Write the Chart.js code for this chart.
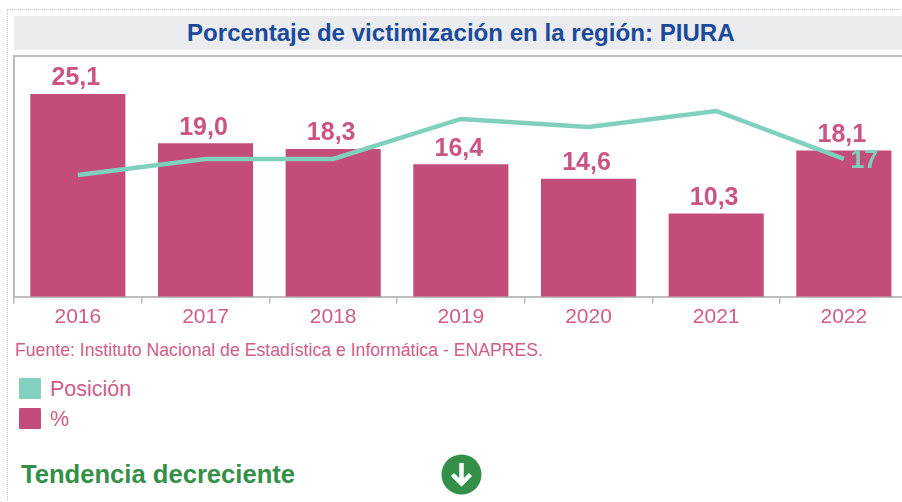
<!DOCTYPE html>
<html lang="es">
<head>
<meta charset="utf-8">
<style>
html,body{margin:0;padding:0;width:902px;height:502px;overflow:hidden;background:#fff;font-family:"Liberation Sans",Arial,sans-serif}
#frame{position:absolute;left:7px;top:9px;width:910px;height:520px;border:1px dotted #c4c4c4;box-sizing:border-box}
#band{position:absolute;left:14px;top:16px;width:888px;height:34px;background:#ebecf0;color:#1c4a9a;font-weight:bold;font-size:24.1px;line-height:33px}
#band span{position:absolute;left:173px;white-space:nowrap}
#wrap{position:absolute;left:0;top:0;width:910px;height:331px}
#src{position:absolute;left:15px;top:341px;font-size:17.67px;line-height:18px;color:#d05c8a;white-space:nowrap}
.key{position:absolute;left:19px;width:22px;height:21px;border-radius:1px}
.lab{position:absolute;left:50px;font-size:21.5px;line-height:24px;color:#d05c8a;white-space:nowrap}
#trend{position:absolute;left:21px;top:460px;font-size:25.6px;line-height:28px;font-weight:bold;color:#349048;white-space:nowrap}
#icon{position:absolute;left:441px;top:454px}
</style>
</head>
<body>
<div id="frame"></div>
<div id="band"><span>Porcentaje de victimización en la región: PIURA</span></div>
<div id="wrap"><canvas id="c" width="910" height="331" style="display:block"></canvas></div>
<div id="src">Fuente: Instituto Nacional de Estadística e Informática - ENAPRES.</div>
<div class="key" style="top:378px;background:#84d0c0"></div><div class="lab" style="top:377px">Posición</div>
<div class="key" style="top:408px;background:#c44c7b"></div><div class="lab" style="top:407px">%</div>
<div id="trend">Tendencia decreciente</div>
<svg id="icon" width="41" height="41" viewBox="0 0 41 41"><circle cx="20.5" cy="20.500" r="20" fill="#349048"/><path d="M20.500 9v20M11.500 20.500l9 9 9-9" fill="none" stroke="#fff" stroke-width="4.500"/></svg>
<script src="https://cdn.jsdelivr.net/npm/chart.js@4/dist/chart.umd.min.js"></script>
<script>
const years = ["2016","2017","2018","2019","2020","2021","2022"];
const percent = [25.1,19.0,18.3,16.4,14.6,10.3,18.1];
const position = [19,17,17,12,13,11,17];

const pink = "#c44c7b", teal = "#7fd0bd", textPink = "#d05c8a", gray = "#bdbdbd";

const decor = {
  id:"decor",
  afterDraw(chart){
    const {ctx,chartArea:a} = chart;
    ctx.save();
    ctx.strokeStyle = gray; ctx.lineWidth = 2;
    ctx.beginPath();
    ctx.moveTo(a.left,a.bottom); ctx.lineTo(a.left,a.top); ctx.lineTo(a.right,a.top);
    ctx.stroke();
    ctx.restore();
  },
  afterDatasetsDraw(chart){
    const {ctx} = chart;
    ctx.save();
    ctx.font = "bold 25px 'Liberation Sans', Arial, sans-serif";
    ctx.textAlign = "center";
    ctx.textBaseline = "alphabetic";
    ctx.fillStyle = "#cb5484";
    chart.getDatasetMeta(1).data.forEach((el,i)=>{
      ctx.fillText(percent[i].toFixed(1).replace(".",","), el.x-2, el.y-8.5);
    });
    const pts = chart.getDatasetMeta(0).data, n = pts.length-1;
    ctx.fillStyle = teal;
    ctx.fillText(String(position[n]), pts[n].x+20.5, pts[n].y+9);
    ctx.restore();
  }
};

new Chart(document.getElementById("c"),{
  data:{
    labels:years,
    datasets:[
      {type:"line",label:"Posición",data:position,yAxisID:"y2",borderColor:teal,borderWidth:4.5,pointRadius:0,tension:0,order:0},
      {type:"bar",label:"%",data:percent,yAxisID:"y",backgroundColor:pink,categoryPercentage:0.745,barPercentage:1,order:1}
    ]
  },
  options:{
    responsive:false,animation:false,
    layout:{padding:{left:14,right:2.3,top:56,bottom:0}},
    plugins:{legend:{display:false},title:{display:false},tooltip:{enabled:false}},
    scales:{
      x:{
        grid:{display:true,drawOnChartArea:false,drawTicks:true,tickLength:7,color:gray,lineWidth:1.5},
        border:{display:true,color:gray,width:2},
        ticks:{color:textPink,font:{family:"'Liberation Sans', Arial, sans-serif",size:21},padding:1,maxRotation:0,autoSkip:false}
      },
      y:{display:false,min:0,max:29.8},
      y2:{display:false,reverse:true,min:4.125,max:34.25}
    }
  },
  plugins:[decor]
});
</script>
</body>
</html>
